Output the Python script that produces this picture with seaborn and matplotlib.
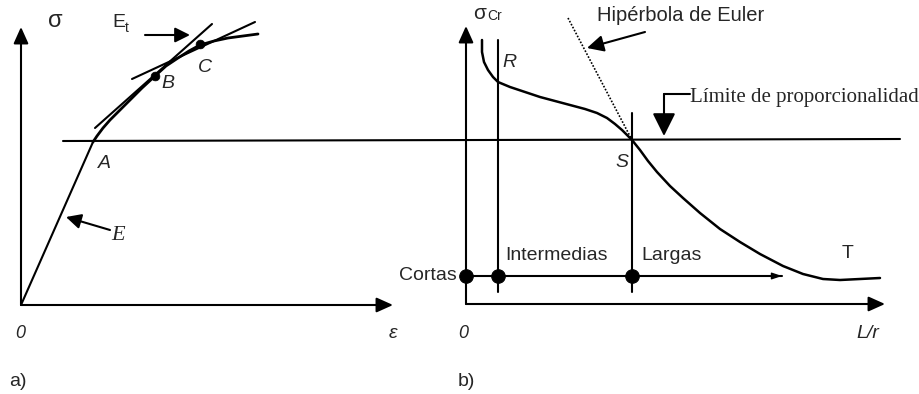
import matplotlib
matplotlib.use("Agg")
import matplotlib.pyplot as plt
import seaborn as sns

# ---- panel a) stress-strain diagram (drawing units: px, y downward) ----
elastic_x = [21, 93]
elastic_y = [305, 142]
plastic_x = [93, 97, 103, 110, 120, 130, 142, 155, 166, 178, 189, 200, 214, 228, 243, 258]
plastic_y = [142, 136, 128, 120, 110, 100, 88, 76, 66, 58, 51, 45, 41, 38, 36, 34]
tangent_b_x = [95, 212]
tangent_b_y = [128, 24]
tangent_c_x = [132, 255]
tangent_c_y = [79, 22]
marks_bc_x = [155, 200]
marks_bc_y = [76, 44]

# proportional limit line shared by both panels
limit_x = [63, 900]
limit_y = [141, 139]

# ---- panel b) critical stress vs slenderness ----
critical_x = [482, 482, 484, 488, 493, 498, 510, 525, 540, 555, 570, 585, 597, 607,
              615, 622, 628, 632, 640, 648, 657, 670, 683, 700, 720, 740, 760, 783,
              803, 823, 840, 860, 880]
critical_y = [40, 52, 62, 70, 77, 82, 87, 92, 97, 101, 105, 109, 113, 118,
              124, 130, 136, 140, 150, 161, 172, 186, 198, 213, 229, 242, 254, 266,
              274, 279, 280, 279, 278]
euler_x = [568, 632]
euler_y = [18, 140]
region_x = [466, 498, 632]
region_y = [276, 276, 276]
region_labels = ["Cortas", "Intermedias", "Largas"]

sns.set_theme(style="white")
plt.rcParams["font.family"] = ["Liberation Sans", "DejaVu Sans"]

fig = plt.figure(figsize=(9.2, 3.94), dpi=100)
ax = fig.add_axes([0, 0, 1, 1])
ax.set_xlim(0, 920)
ax.set_ylim(394, 0)
ax.axis("off")

LW = 1.5
K = "black"


def line(xs, ys, **kw):
    sns.lineplot(x=xs, y=ys, sort=False, estimator=None, color=K,
                 linewidth=kw.pop("lw", LW), ax=ax, legend=False, **kw)


def arrow(tail, tip, hl=10, hw=4.5, lw=LW):
    ax.annotate("", xy=tip, xytext=tail,
                arrowprops=dict(arrowstyle=f"-|>,head_length={hl},head_width={hw}",
                                mutation_scale=1, lw=lw, color=K,
                                shrinkA=0, shrinkB=0))


# axes of panel a
arrow((21, 305), (21, 27))
arrow((21, 305), (393, 305))
line(elastic_x, elastic_y)
line(plastic_x, plastic_y, lw=2.0)
line(tangent_b_x, tangent_b_y)
line(tangent_c_x, tangent_c_y)
line(limit_x, limit_y)
sns.scatterplot(x=marks_bc_x, y=marks_bc_y, color=K, s=40, ax=ax, legend=False,
                edgecolor=K, zorder=5)
arrow((110, 230), (66, 217), hl=9, hw=4.5)
arrow((145, 35), (190, 35), hl=9, hw=4.5)

ax.text(55, 21, "σ", fontsize=17, ha="center", va="center")
ax.text(119, 22, "E", fontsize=14, ha="center", va="center")
ax.text(127, 28, "t", fontsize=10, ha="center", va="center")
ax.text(104, 163, "A", fontsize=14, style="italic", ha="center", va="center")
ax.text(168, 83, "B", fontsize=14, style="italic", ha="center", va="center")
ax.text(205, 67, "C", fontsize=14, style="italic", ha="center", va="center")
ax.text(118, 235, "E", fontsize=16, style="italic", family="Liberation Serif",
        ha="center", va="center")
ax.text(20, 334, "0", fontsize=13, style="italic", ha="center", va="center")
ax.text(393, 334, "ε", fontsize=14, style="italic", ha="center", va="center")
ax.text(9, 381, "a)", fontsize=14, ha="left", va="center")

# axes of panel b
arrow((466, 304), (466, 26))
arrow((466, 304), (885, 304))
line([498, 498], [40, 292])
line([632, 632], [113, 292])
line([466, 782], [276, 276])
arrow((770, 276), (782, 276), hl=6, hw=2, lw=1.0)
line(critical_x, critical_y, lw=1.8)
line(euler_x, euler_y, lw=1.2, linestyle=(0, (1, 1)))
sns.scatterplot(x=region_x, y=region_y, color=K, s=95, ax=ax, legend=False,
                edgecolor=K, zorder=5)

ax.text(480, 13, "σ", fontsize=15, ha="center", va="center")
ax.text(487, 16, "Cr", fontsize=10, ha="left", va="center")
ax.text(509, 62, "R", fontsize=14, style="italic", ha="center", va="center")
ax.text(622, 162, "S", fontsize=14, style="italic", ha="center", va="center")
ax.text(848, 254, "T", fontsize=14, ha="center", va="center")
ax.text(region_x[0] - 9, region_y[0], region_labels[0], fontsize=14,
        ha="right", va="center")
ax.text(region_x[1] + 7, 255, region_labels[1], fontsize=14, ha="left", va="center")
ax.text(region_x[2] + 9, 255, region_labels[2], fontsize=14, ha="left", va="center")
ax.text(463, 334, "0", fontsize=13, style="italic", ha="center", va="center")
ax.text(868, 334, "L/r", fontsize=14, style="italic", ha="center", va="center")
ax.text(458, 381, "b)", fontsize=14, ha="left", va="center")

ax.text(681, 15, "Hipérbola de Euler", fontsize=14.5, ha="center", va="center")
arrow((645, 32), (587, 48), hl=10, hw=5)
ax.text(690, 97, "Límite de proporcionalidad", fontsize=15,
        family="Liberation Serif", ha="left", va="center")
line([690, 664], [94, 94])
arrow((664, 94), (664, 136), hl=14, hw=7)

fig.savefig("out.png", dpi=100, facecolor="white")
